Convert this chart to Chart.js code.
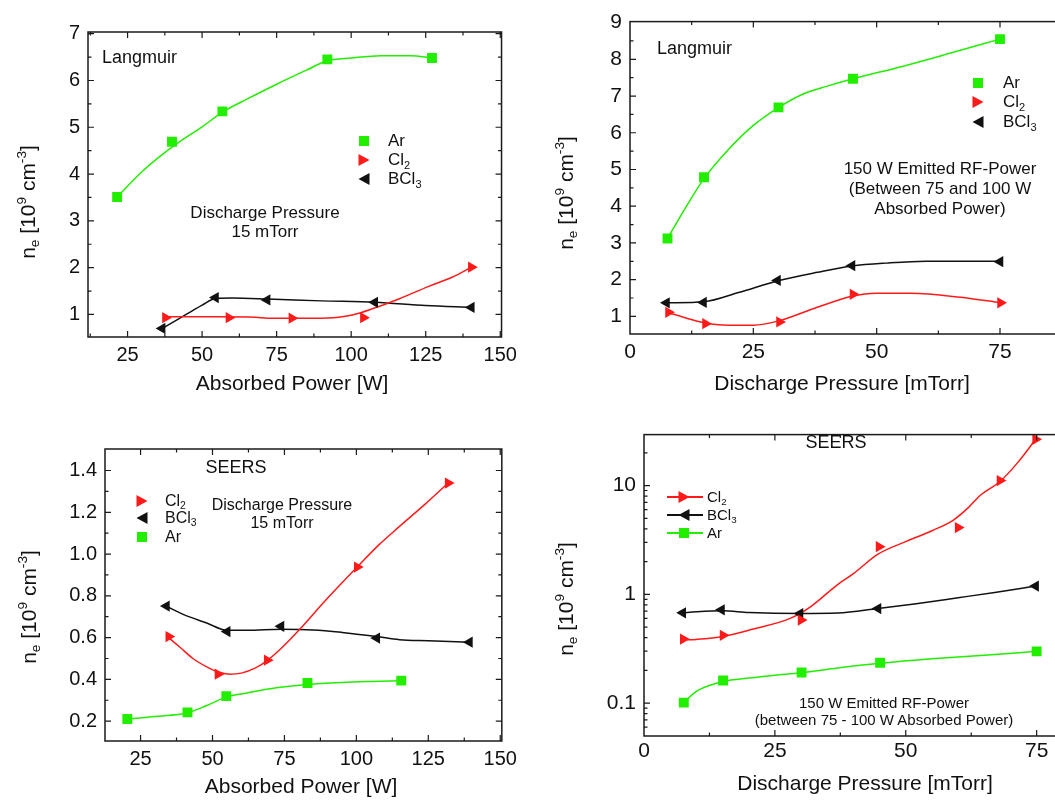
<!DOCTYPE html>
<html>
<head>
<meta charset="utf-8">
<script src="https://cdn.jsdelivr.net/npm/chart.js@4.4.0/dist/chart.umd.min.js"></script>
<style>
  html, body { margin: 0; padding: 0; background: #fff; }
  body { width: 1055px; height: 801px; overflow: hidden; position: relative;
         font-family: "Liberation Sans", Arial, sans-serif; color: #111; }
  canvas { position: absolute; }
  .t { position: absolute; white-space: nowrap; line-height: 1.15; transform: translate(-50%, -50%); }
  .l { position: absolute; white-space: nowrap; line-height: 1.15; transform: translateY(-50%); }
  .ytitle { font-size: 21px; transform: translate(-50%, -50%) rotate(-90deg); }
  .xtitle { font-size: 21px; }
  sub { font-size: 0.65em; vertical-align: -0.3em; line-height: 0; }
  sup { font-size: 0.65em; vertical-align: 0.65em; line-height: 0; }
  .mk { position: absolute; transform: translate(-50%, -50%); }
  .sq { width: 10px; height: 10px; background: #22ee00; }
  .tr { width: 0; height: 0; border-top: 6px solid transparent; border-bottom: 6px solid transparent; border-left: 11px solid #ff1a1a; }
  .tl { width: 0; height: 0; border-top: 6px solid transparent; border-bottom: 6px solid transparent; border-right: 11px solid #111; }
  .ln { position: absolute; height: 2px; transform: translateY(-50%); }
</style>
</head>
<body>

<canvas id="c1" width="515" height="365" style="left:8px;top:12px"></canvas>
<canvas id="c2" width="544" height="373" style="left:550px;top:1px"></canvas>
<canvas id="c3" width="498" height="352" style="left:25px;top:429px"></canvas>
<canvas id="c4" width="545" height="362" style="left:564px;top:414px"></canvas>

<!-- Langmuir, power scan -->
<div class="l" style="left:102px;top:57px;font-size:18px">Langmuir</div>
<div class="mk sq" style="left:364px;top:141px"></div>
<div class="mk tr" style="left:364px;top:160px"></div>
<div class="mk tl" style="left:364px;top:179px"></div>
<div class="l" style="left:388px;top:141px;font-size:17px">Ar</div>
<div class="l" style="left:388px;top:160px;font-size:17px">Cl<sub>2</sub></div>
<div class="l" style="left:388px;top:179px;font-size:17px">BCl<sub>3</sub></div>
<div class="t" style="left:265px;top:213px;font-size:17px">Discharge Pressure</div>
<div class="t" style="left:265px;top:232px;font-size:17px">15 mTorr</div>
<div class="t xtitle" style="left:292px;top:383px">Absorbed Power [W]</div>
<div class="t ytitle" style="left:28px;top:202px">n<sub>e</sub> [10<sup>9</sup> cm<sup>-3</sup>]</div>

<!-- Langmuir, pressure scan -->
<div class="l" style="left:657px;top:48px;font-size:18px">Langmuir</div>
<div class="mk sq" style="left:978px;top:83px"></div>
<div class="mk tr" style="left:978px;top:102px"></div>
<div class="mk tl" style="left:978px;top:122px"></div>
<div class="l" style="left:1003px;top:83px;font-size:17px">Ar</div>
<div class="l" style="left:1003px;top:102px;font-size:17px">Cl<sub>2</sub></div>
<div class="l" style="left:1003px;top:122px;font-size:17px">BCl<sub>3</sub></div>
<div class="t" style="left:940px;top:169px;font-size:17px">150 W Emitted RF-Power</div>
<div class="t" style="left:940px;top:189px;font-size:17px">(Between 75 and 100 W</div>
<div class="t" style="left:940px;top:209px;font-size:17px">Absorbed Power)</div>
<div class="t xtitle" style="left:842px;top:383px">Discharge Pressure [mTorr]</div>
<div class="t ytitle" style="left:566px;top:193px">n<sub>e</sub> [10<sup>9</sup> cm<sup>-3</sup>]</div>

<!-- SEERS, power scan -->
<div class="t" style="left:236px;top:467px;font-size:18px">SEERS</div>
<div class="mk tr" style="left:142px;top:501px"></div>
<div class="mk tl" style="left:142px;top:518px"></div>
<div class="mk sq" style="left:142px;top:537px"></div>
<div class="l" style="left:165px;top:501px;font-size:16px">Cl<sub>2</sub></div>
<div class="l" style="left:165px;top:518px;font-size:16px">BCl<sub>3</sub></div>
<div class="l" style="left:165px;top:537px;font-size:16px">Ar</div>
<div class="t" style="left:282px;top:505px;font-size:16px">Discharge Pressure</div>
<div class="t" style="left:282px;top:523px;font-size:16px">15 mTorr</div>
<div class="t xtitle" style="left:301px;top:786px">Absorbed Power [W]</div>
<div class="t ytitle" style="left:29px;top:607px">n<sub>e</sub> [10<sup>9</sup> cm<sup>-3</sup>]</div>

<!-- SEERS, pressure scan -->
<div class="t" style="left:836px;top:442px;font-size:18px">SEERS</div>
<div class="ln" style="left:667px;top:497px;width:36px;background:#ff1a1a"></div>
<div class="ln" style="left:667px;top:515px;width:36px;background:#111"></div>
<div class="ln" style="left:667px;top:533px;width:36px;background:#22ee00"></div>
<div class="mk tr" style="left:684px;top:497px"></div>
<div class="mk tl" style="left:684px;top:515px"></div>
<div class="mk sq" style="left:684px;top:533px"></div>
<div class="l" style="left:707px;top:497px;font-size:15px">Cl<sub>2</sub></div>
<div class="l" style="left:707px;top:515px;font-size:15px">BCl<sub>3</sub></div>
<div class="l" style="left:707px;top:533px;font-size:15px">Ar</div>
<div class="t" style="left:884px;top:703px;font-size:15px">150 W Emitted RF-Power</div>
<div class="t" style="left:884px;top:720px;font-size:15px">(between 75 - 100 W Absorbed Power)</div>
<div class="t xtitle" style="left:865px;top:783px">Discharge Pressure [mTorr]</div>
<div class="t ytitle" style="left:566px;top:599px">n<sub>e</sub> [10<sup>9</sup> cm<sup>-3</sup>]</div>

<script>
// ---- Langmuir probe, density vs absorbed power (15 mTorr) ----
const lpPowAr   = [21.5, 39.9, 56.8, 92.0, 127.1];
const lpNeAr    = [3.51, 4.69, 5.34, 6.45, 6.48];
const lpPowCl2  = [37.7, 59.0, 80.1, 104.1, 140.3];
const lpNeCl2   = [0.93, 0.93, 0.92, 0.93, 2.01];
const lpPowBCl3 = [36.6, 54.5, 71.8, 107.9, 140.3];
const lpNeBCl3  = [0.70, 1.36, 1.31, 1.26, 1.15];
// fitted curves
const lpFitArX   = [21.5, 30, 40, 50, 57, 65, 75, 85, 92, 100, 110, 120, 127.1];
const lpFitArY   = [3.51, 4.06, 4.58, 5.01, 5.33, 5.6, 5.92, 6.22, 6.42, 6.48, 6.53, 6.53, 6.48];
const lpFitCl2X  = [37.7, 55, 68, 72, 90, 94, 100.4, 107.1, 116, 126, 134, 140.3];
const lpFitCl2Y  = [0.95, 0.95, 0.94, 0.92, 0.92, 0.93, 0.99, 1.12, 1.33, 1.6, 1.8, 2.01];
const lpFitBCl3X = [36.6, 42, 46, 50, 54.5, 60, 72, 90, 108, 125, 140.3];
const lpFitBCl3Y = [0.70, 0.9, 1.05, 1.2, 1.34, 1.35, 1.33, 1.29, 1.26, 1.19, 1.15];

// ---- Langmuir probe, density vs pressure (150 W emitted) ----
const lqPAr   = [7.6, 15.0, 30.1, 45.2, 75.0];
const lqNeAr  = [3.12, 4.79, 6.69, 7.47, 8.55];
const lqPCl2  = [7.8, 15.3, 30.3, 45.2, 75.1];
const lqNeCl2 = [1.11, 0.80, 0.85, 1.60, 1.37];
const lqPBCl3 = [7.4, 14.9, 29.9, 45.0, 75.0];
const lqNeBCl3 = [1.37, 1.38, 1.98, 2.38, 2.49];
const lqFitArX   = [7.6, 11, 15, 20, 25, 30, 35, 40, 45.2, 55, 65, 75];
const lqFitArY   = [3.12, 3.9, 4.75, 5.55, 6.2, 6.68, 7.05, 7.27, 7.47, 7.8, 8.17, 8.55];
const lqFitCl2X  = [7.8, 12, 16, 20, 25, 30, 37, 45, 50, 57, 67, 75.1];
const lqFitCl2Y  = [1.1, 0.93, 0.8, 0.76, 0.76, 0.87, 1.2, 1.55, 1.63, 1.63, 1.52, 1.37];
const lqFitBCl3X = [7.4, 15, 22, 30, 38, 45, 52, 60, 75];
const lqFitBCl3Y = [1.37, 1.4, 1.65, 1.97, 2.2, 2.37, 2.45, 2.5, 2.5];

// ---- SEERS, density vs absorbed power (15 mTorr) ----
const spPowCl2  = [34.8, 51.9, 69.0, 100.3, 131.9];
const spNeCl2   = [0.605, 0.425, 0.492, 0.938, 1.34];
const spPowBCl3 = [34.0, 55.1, 73.8, 107.1, 139.3];
const spNeBCl3  = [0.751, 0.629, 0.654, 0.598, 0.578];
const spPowAr   = [20.4, 41.3, 54.8, 83.0, 115.6];
const spNeAr    = [0.21, 0.242, 0.32, 0.383, 0.394];
const spFitCl2X  = [34.8, 39, 43.2, 48, 52, 55.9, 60, 65, 69, 74, 80, 89.4, 100.3, 107.9, 114.8, 124, 131.9];
const spFitCl2Y  = [0.6, 0.55, 0.5, 0.46, 0.435, 0.425, 0.43, 0.455, 0.49, 0.55, 0.635, 0.78, 0.938, 1.045, 1.13, 1.24, 1.34];
const spFitBCl3X = [34, 40, 48, 55.1, 62, 73.8, 85, 95, 107.1, 115, 125, 139.3];
const spFitBCl3Y = [0.75, 0.71, 0.67, 0.635, 0.635, 0.64, 0.637, 0.625, 0.605, 0.59, 0.585, 0.578];
const spFitArX   = [20.4, 30, 41.3, 48, 54.8, 62, 70, 83, 95, 105, 115.6];
const spFitArY   = [0.21, 0.222, 0.24, 0.275, 0.315, 0.335, 0.355, 0.375, 0.385, 0.39, 0.394];

// ---- SEERS, density vs pressure (150 W emitted), log axis ----
const sqPCl2   = [7.5, 15.1, 30.0, 44.9, 60.0, 68.0, 74.8];
const sqNeCl2  = [0.388, 0.42, 0.58, 2.74, 4.11, 11.1, 26.6];
const sqPBCl3  = [7.4, 14.8, 29.8, 44.7, 74.8];
const sqNeBCl3 = [0.675, 0.72, 0.665, 0.74, 1.19];
const sqPAr    = [7.6, 15.1, 30.1, 45.1, 75.0];
const sqNeAr   = [0.101, 0.161, 0.191, 0.235, 0.299];
const sqFitCl2X  = [7.5, 10, 15.1, 20.9, 27.9, 32, 36.8, 40, 44.7, 50.2, 55, 59.1, 62, 64.2, 68, 71.5, 74.8];
const sqFitCl2Y  = [0.38, 0.385, 0.41, 0.48, 0.6, 0.78, 1.21, 1.55, 2.34, 3.08, 3.84, 4.82, 6.3, 8.1, 10.9, 16.5, 26.6];
const sqFitBCl3X = [7.4, 10, 15, 20, 30, 37, 44.7, 52, 60, 67, 74.8];
const sqFitBCl3Y = [0.675, 0.69, 0.705, 0.68, 0.665, 0.672, 0.74, 0.82, 0.93, 1.04, 1.19];
const sqFitArX   = [7.6, 10, 12.5, 15.1, 20, 25, 30.1, 37, 45.1, 55, 65, 75];
const sqFitArY   = [0.101, 0.128, 0.145, 0.158, 0.17, 0.18, 0.19, 0.21, 0.232, 0.255, 0.275, 0.299];

// tick values
const powerTicks = [25, 50, 75, 100, 125, 150];
const pressTicks = [0, 25, 50, 75];
const lpNeTicks  = [1, 2, 3, 4, 5, 6, 7];
const lqNeTicks  = [1, 2, 3, 4, 5, 6, 7, 8, 9];
const spNeTicks  = [0.2, 0.4, 0.6, 0.8, 1.0, 1.2, 1.4];
const sqNeTicks  = [0.1, 1, 10];

const FONT = '"Liberation Sans", Arial, sans-serif';
const GREEN = '#22ee00', RED = '#ff1a1a', BLACK = '#111';

const pts = (xs, ys) => xs.map((x, i) => ({ x: x, y: ys[i] }));

function curve(xs, ys, color) {
    return { data: pts(xs, ys), showLine: true, borderColor: color, borderWidth: 1.5,
             pointRadius: 0, cubicInterpolationMode: 'monotone', order: 1 };
}

function marks(xs, ys, color, style, rot, r) {
    return { data: pts(xs, ys), showLine: false, pointStyle: style, pointRotation: rot,
             pointRadius: r, pointBackgroundColor: color, pointBorderColor: color,
             pointBorderWidth: 0, order: 0 };
}
const squares = (xs, ys) => marks(xs, ys, GREEN, 'rect', 0, 7);
const rightTri = (xs, ys) => marks(xs, ys, RED, 'triangle', 90, 6.5);
const leftTri = (xs, ys) => marks(xs, ys, BLACK, 'triangle', 270, 6.5);

// box around the plot with inward ticks on all four sides
const frameTicks = {
    id: 'frameTicks',
    afterDraw(chart, args, opts) {
        const { ctx, chartArea: a } = chart;
        const sx = chart.scales.x, sy = chart.scales.y;
        ctx.save();
        ctx.strokeStyle = '#1a1a1a';
        ctx.lineWidth = 1.5;
        ctx.strokeRect(a.left, a.top, a.right - a.left, a.bottom - a.top);
        ctx.lineWidth = 1.2;
        ctx.beginPath();
        const xt = (v, len) => {
            const p = sx.getPixelForValue(v);
            if (p < a.left + 1 || p > a.right - 1) return;
            ctx.moveTo(p, a.bottom); ctx.lineTo(p, a.bottom - len);
            ctx.moveTo(p, a.top); ctx.lineTo(p, a.top + len);
        };
        const yt = (v, len) => {
            const p = sy.getPixelForValue(v);
            if (p < a.top + 1 || p > a.bottom - 1) return;
            ctx.moveTo(a.left, p); ctx.lineTo(a.left + len, p);
            ctx.moveTo(a.right, p); ctx.lineTo(a.right - len, p);
        };
        for (let v = Math.ceil(sx.min / opts.xMinor) * opts.xMinor; v <= sx.max; v += opts.xMinor) xt(v, 3.5);
        sx.ticks.forEach(t => xt(t.value, 6));
        if (opts.logY) {
            for (let d = Math.floor(Math.log10(sy.min)); d <= Math.ceil(Math.log10(sy.max)); d++) {
                for (let k = 1; k <= 9; k++) yt(k * Math.pow(10, d), k === 1 ? 6 : 3.5);
            }
        } else {
            for (let v = Math.ceil(sy.min / opts.yMinor) * opts.yMinor; v <= sy.max; v += opts.yMinor) yt(v, 3.5);
            sy.ticks.forEach(t => yt(t.value, 6));
        }
        ctx.stroke();
        ctx.restore();
    }
};

function panel(id, xRange, yRange, xTicks, yTicks, yFmt, minor, datasets, logY, tickSize, xPad) {
    const tickFont = { size: tickSize || 20, family: FONT };
    return new Chart(document.getElementById(id), {
        type: 'scatter',
        data: { datasets: datasets },
        options: {
            responsive: false,
            animation: false,
            devicePixelRatio: 1,
            layout: { padding: { top: 14, right: 20, left: 0, bottom: 0 } },
            plugins: { legend: { display: false }, tooltip: { enabled: false }, frameTicks: minor },
            scales: {
                x: {
                    type: 'linear', min: xRange[0], max: xRange[1],
                    grid: { display: false, drawTicks: false }, border: { display: false },
                    afterBuildTicks: s => { s.ticks = xTicks.map(v => ({ value: v })); },
                    afterFit: s => { s.height = 40; },
                    ticks: { padding: xPad || 8, maxRotation: 0, autoSkip: false, font: tickFont, color: '#111',
                             callback: v => String(v) }
                },
                y: {
                    type: logY ? 'logarithmic' : 'linear', min: yRange[0], max: yRange[1],
                    grid: { display: false, drawTicks: false }, border: { display: false },
                    afterBuildTicks: s => { s.ticks = yTicks.map(v => ({ value: v })); },
                    afterFit: s => { s.width = 80; },
                    ticks: { padding: 8, autoSkip: false, font: tickFont, color: '#111', callback: yFmt }
                }
            }
        },
        plugins: [frameTicks]
    });
}

panel('c1', [11.73, 150.43], [0.518, 7.036], powerTicks, lpNeTicks, v => String(v),
    { xMinor: 12.5, yMinor: 0.5 }, [
        squares(lpPowAr, lpNeAr), rightTri(lpPowCl2, lpNeCl2), leftTri(lpPowBCl3, lpNeBCl3),
        curve(lpFitArX, lpFitArY, GREEN), curve(lpFitCl2X, lpFitCl2Y, RED), curve(lpFitBCl3X, lpFitBCl3Y, BLACK)
    ], false, 20, 6);

panel('c2', [0, 90], [0.52, 9.027], pressTicks, lqNeTicks, v => String(v),
    { xMinor: 12.5, yMinor: 0.5 }, [
        squares(lqPAr, lqNeAr), rightTri(lqPCl2, lqNeCl2), leftTri(lqPBCl3, lqNeBCl3),
        curve(lqFitArX, lqFitArY, GREEN), curve(lqFitCl2X, lqFitCl2Y, RED), curve(lqFitBCl3X, lqFitBCl3Y, BLACK)
    ], false, 21, 6);

panel('c3', [12.64, 150.55], [0.105, 1.503], powerTicks, spNeTicks, v => v.toFixed(1),
    { xMinor: 12.5, yMinor: 0.1 }, [
        rightTri(spPowCl2, spNeCl2), leftTri(spPowBCl3, spNeBCl3), squares(spPowAr, spNeAr),
        curve(spFitCl2X, spFitCl2Y, RED), curve(spFitBCl3X, spFitBCl3Y, BLACK), curve(spFitArX, spFitArY, GREEN)
    ], false, 20, 6);

panel('c4', [0, 85], [0.0498, 29.4], pressTicks, sqNeTicks, v => String(v),
    { xMinor: 12.5, logY: true }, [
        rightTri(sqPCl2, sqNeCl2), leftTri(sqPBCl3, sqNeBCl3), squares(sqPAr, sqNeAr),
        curve(sqFitCl2X, sqFitCl2Y, RED), curve(sqFitBCl3X, sqFitBCl3Y, BLACK), curve(sqFitArX, sqFitArY, GREEN)
    ], true, 21, 3);
</script>
</body>
</html>
